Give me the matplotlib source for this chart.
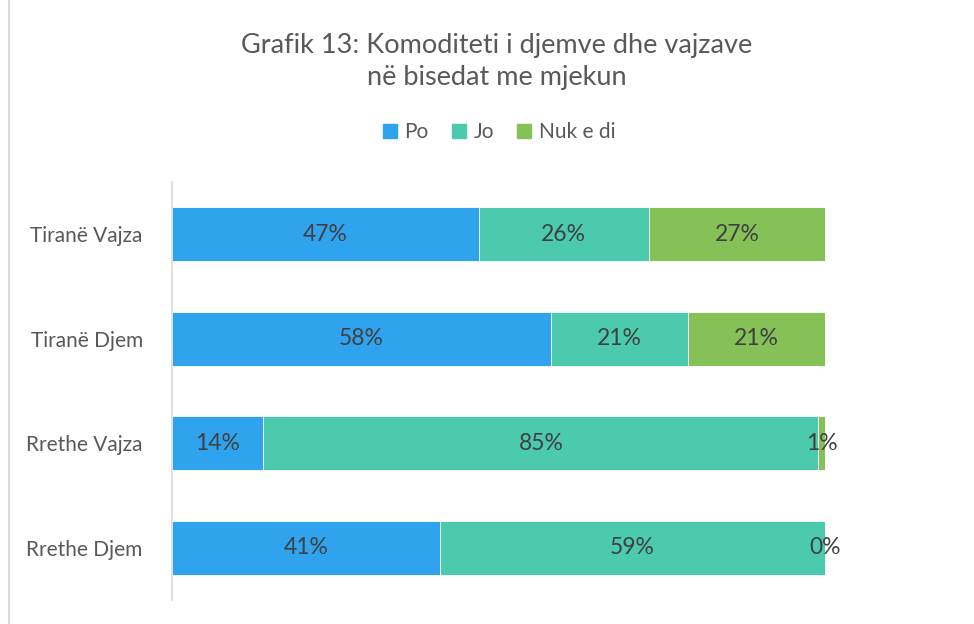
import matplotlib
matplotlib.use("Agg")
import matplotlib.pyplot as plt
from matplotlib.lines import Line2D

plt.rcParams['font.family'] = ['Lato', 'DejaVu Sans']

# data
categories = ["Tiranë Vajza", "Tiranë Djem", "Rrethe Vajza", "Rrethe Djem"]
series_names = ["Po", "Jo", "Nuk e di"]
po = [47, 58, 14, 41]
jo = [26, 21, 85, 59]
nuk = [27, 21, 1, 0]
colors = ["#2FA3EE", "#4BCAAD", "#86C157"]

fig = plt.figure(figsize=(9.74, 6.24), dpi=100)
ax = fig.add_axes([172/974, 1-600/624, (825-172)/974, (600-182)/624])

txt = "#404040"
left = [0, 0, 0, 0]
for vals, name, col in zip([po, jo, nuk], series_names, colors):
    ax.barh(range(len(categories)), vals, left=left, height=0.52, color=col,
            label=name, edgecolor="white", linewidth=0.6)
    for i, v in enumerate(vals):
        ax.text(left[i] + v/2, i, str(v) + "%", ha="center", va="center",
                fontsize=16.5, color=txt)
    left = [a + b for a, b in zip(left, vals)]

ax.set_xlim(0, 100)
ax.set_ylim(3.5, -0.5)
ax.set_yticks(range(len(categories)))
ax.set_yticklabels(categories, fontsize=15, color="#595959")
ax.tick_params(axis="y", length=0, pad=21)
ax.set_xticks([])
for s in ["top", "right", "bottom"]:
    ax.spines[s].set_visible(False)
ax.spines["left"].set_color("#D9D9D9")
ax.spines["left"].set_linewidth(1.2)

fig.text(497/974, 1-45/624, "Grafik 13: Komoditeti i djemve dhe vajzave",
         ha="center", va="center", fontsize=19.5, color="#595959")
fig.text(497/974, 1-77/624, "në bisedat me mjekun",
         ha="center", va="center", fontsize=19.5, color="#595959")

handles = [Line2D([0], [0], marker="s", linestyle="none", markersize=10,
                  markerfacecolor=c, markeredgecolor=c) for c in colors]
fig.legend(handles, series_names, loc="center", bbox_to_anchor=(499/974, 1-132/624),
           ncol=3, frameon=False, fontsize=15, handlelength=0.7, handletextpad=0.35,
           columnspacing=1.1, labelcolor="#595959")

# chart border on the left
fig.add_artist(Line2D([9/974, 9/974], [0, 1], color="#D9D9D9", linewidth=1.5))

fig.savefig("out.png", dpi=100)
